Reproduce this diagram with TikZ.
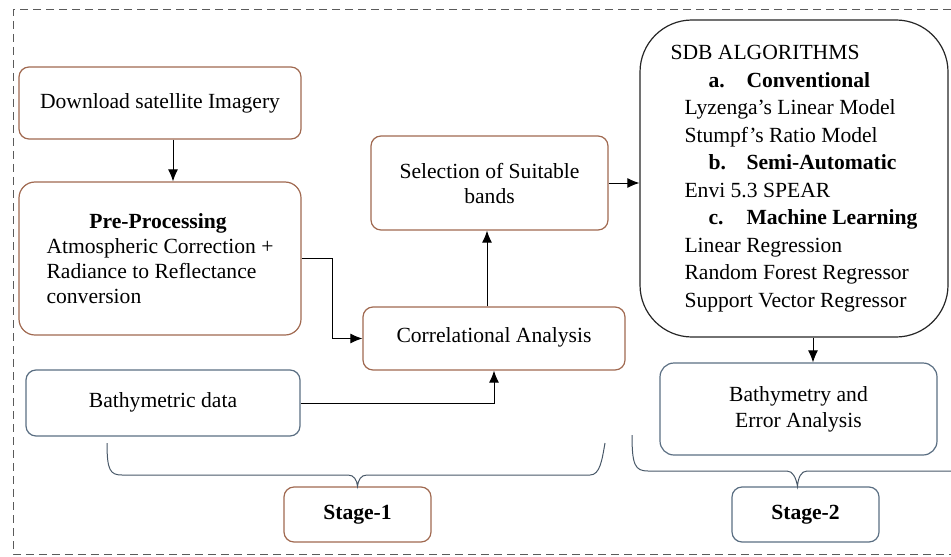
\documentclass[tikz,border=0pt]{standalone}
\usepackage{fontspec}
\setmainfont{Liberation Serif}
\usetikzlibrary{arrows.meta}
\definecolor{boxbrown}{RGB}{160,105,80}
\definecolor{boxblue}{RGB}{90,110,130}
\definecolor{framegray}{RGB}{90,90,90}

\begin{document}
\begin{tikzpicture}[x=0.5pt, y=-0.5pt, >={Latex[length=6pt,width=5pt]}, font=\fontsize{10.8}{13.75}\selectfont,
  stepbrown/.style={draw=boxbrown, line width=0.6pt, rounded corners=5pt, align=center, inner sep=2pt},
  stepblue/.style={draw=boxblue, line width=0.6pt, rounded corners=5pt, align=center, inner sep=2pt},
  flow/.style={black, line width=0.5pt, ->}]

\useasboundingbox (0,0) rectangle (951,556);

\draw[framegray, line width=0.5pt, dash pattern=on 4pt off 2.5pt] (951,10) -- (13,10) -- (13,554) -- (951,554); %frame

% stage 1
\node[stepbrown, minimum width=141pt, minimum height=36pt] (dl) at (160,103) {Download satellite Imagery};
\node[stepbrown, rounded corners=8pt, minimum width=141pt, minimum height=76.5pt, align=left, font=\fontsize{10.8}{12.5}\selectfont] (pre) at (160,258.5) {\makebox[111.5pt]{\textbf{Pre-Processing}}\\Atmospheric Correction +\\Radiance to Reflectance\\conversion};
\node[stepblue, minimum width=137pt, minimum height=33pt] (bath) at (163,403) {\raisebox{3pt}{Bathymetric data}};
\node[stepbrown, minimum width=131pt, minimum height=31.5pt] (cor) at (494,338.5) {\raisebox{3pt}{Correlational Analysis}};
\node[stepbrown, minimum width=118.5pt, minimum height=47pt, font=\fontsize{10.8}{12.5}\selectfont] (sel) at (489.5,183) {Selection of Suitable\\bands};

% stage 2
\node[draw=black!85, line width=0.6pt, rounded corners=26pt, minimum width=154pt, minimum height=158.5pt, align=left] (sdb) at (794,178.5) {SDB ALGORITHMS\\
\hspace*{19pt}\makebox[19pt][l]{\textbf{a.}}\textbf{Conventional}\\
\hspace*{7pt}Lyzenga’s Linear Model\\
\hspace*{7pt}Stumpf’s Ratio Model\\
\hspace*{19pt}\makebox[19pt][l]{\textbf{b.}}\textbf{Semi-Automatic}\\
\hspace*{7pt}Envi 5.3 SPEAR\\
\hspace*{19pt}\makebox[19pt][l]{\textbf{c.}}\textbf{Machine Learning}\\
\hspace*{7pt}Linear Regression\\
\hspace*{7pt}Random Forest Regressor\\
\hspace*{7pt}Support Vector Regressor};
\node[stepblue, rounded corners=7pt, minimum width=138.5pt, minimum height=46pt, font=\fontsize{10.8}{13}\selectfont] (bea) at (798.5,409) {Bathymetry and\\Error Analysis};

\node[stepbrown, minimum width=73.5pt, minimum height=27.5pt, font=\fontsize{10.8}{12}\selectfont\bfseries] (s1) at (357.5,514.5) {Stage-1};
\node[stepblue, minimum width=73.5pt, minimum height=27.5pt, font=\fontsize{10.8}{12}\selectfont\bfseries] (s2) at (805.5,514.5) {Stage-2};

% arrows
\draw[flow] ([xshift=6.5pt]dl.south) -- ([xshift=6.5pt]pre.north);
\draw[flow] (pre.east) -- ++(31,0) |- (cor.west);
\draw[flow] (bath.east) -| (cor.south);
\draw[flow] ([xshift=-1.25pt]sel.south |- cor.north) -- ([xshift=-1.25pt]sel.south);
\draw[flow] (sel.east) -- (sdb.west |- sel.east);
\draw[flow] ([xshift=9.5pt]sdb.south) -- ([xshift=9.5pt]sdb.south |- bea.north);

% braces
\draw[boxblue!80!black, line width=0.5pt] (107,443) .. controls (107,470) and (110,475) .. (122,475) -- (348,475) .. controls (354,475) and (357,480) .. (s1.north) .. controls (358,480) and (361,475) .. (367,475) -- (590,475) .. controls (600,475) and (602,460) .. (605,443); %stage-1
\draw[boxblue!80!black, line width=0.5pt] (632,435) .. controls (632,465) and (635,471) .. (648,471) -- (787,471) .. controls (793,471) and (796,478) .. ([xshift=-4pt]s2.north) .. controls (798,478) and (801,471) .. (807,471) -- (951,471); %stage-2

\end{tikzpicture}
\end{document}
